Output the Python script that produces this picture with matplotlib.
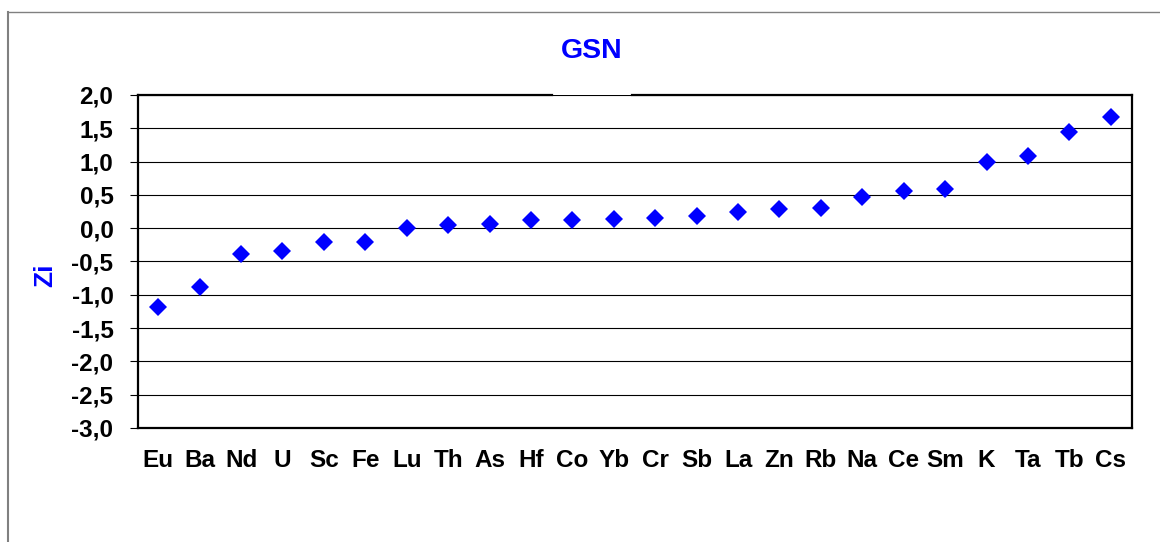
import matplotlib
matplotlib.use("Agg")
import matplotlib.pyplot as plt
from matplotlib.lines import Line2D

plt.rcParams['font.family'] = ['Liberation Sans', 'DejaVu Sans']
plt.rcParams['font.weight'] = 'bold'

# data
elements = ['Eu', 'Ba', 'Nd', 'U', 'Sc', 'Fe', 'Lu', 'Th', 'As', 'Hf', 'Co', 'Yb',
            'Cr', 'Sb', 'La', 'Zn', 'Rb', 'Na', 'Ce', 'Sm', 'K', 'Ta', 'Tb', 'Cs']
zi = [-1.19, -0.88, -0.39, -0.34, -0.21, -0.21, 0.01, 0.05, 0.07, 0.12, 0.13, 0.14,
      0.15, 0.18, 0.24, 0.29, 0.31, 0.47, 0.56, 0.59, 0.99, 1.09, 1.45, 1.67]
yticks = [2.0, 1.5, 1.0, 0.5, 0.0, -0.5, -1.0, -1.5, -2.0, -2.5, -3.0]

W, H = 1160, 542
fig = plt.figure(figsize=(W / 100, H / 100), dpi=100)
ax = fig.add_axes([137.5 / W, 1 - 428 / H, 994 / W, 333 / H])

x = list(range(len(elements)))
ax.plot(x, zi, linestyle='none', marker='D', markersize=8.7,
        color='#0000ff', markeredgewidth=0, zorder=5)

ax.set_xlim(-0.5, len(elements) - 0.5)
ax.set_ylim(-3.0, 2.0)
ax.set_xticks(x)
ax.set_xticklabels(elements, fontsize=17.5, fontweight='bold')
ax.tick_params(axis='x', length=0, pad=15)

ax.set_yticks(yticks)
ax.set_yticklabels([f"{v:.1f}".replace('.', ',') for v in yticks],
                   fontsize=17.5, fontweight='bold')
ax.tick_params(axis='y', direction='out', length=5.8, width=0.8, pad=11.5)

ax.yaxis.grid(True, color='black', linewidth=0.8)
ax.set_axisbelow(True)

for side in ['left', 'bottom', 'right']:
    ax.spines[side].set_linewidth(1.6)
    ax.spines[side].set_color('black')
ax.spines['top'].set_visible(False)

# top border with a gap under the title
for x0, x1 in [(0, 0.417), (0.4975, 1.0)]:
    ax.add_line(Line2D([x0, x1], [1, 1], transform=ax.transAxes, color='black',
                       linewidth=1.6, clip_on=False))

fig.text(592 / W, 1 - 51 / H, 'GSN', color='#0000ff', fontsize=20.5,
         fontweight='bold', ha='center', va='center')
fig.text(45 / W, 1 - 275 / H, 'Zi', color='#0000ff', fontsize=19,
         fontweight='bold', ha='center', va='center', rotation=90)

# chart area outline (cut off at right and bottom)
fig.add_artist(Line2D([7.5 / W, 7.5 / W], [0, 1 - 11.5 / H], transform=fig.transFigure,
                      color='#808080', linewidth=1.5))
fig.add_artist(Line2D([7.5 / W, 1], [1 - 11.5 / H, 1 - 11.5 / H], transform=fig.transFigure,
                      color='#808080', linewidth=1.0))

fig.savefig('out.png', dpi=100, facecolor='white')
